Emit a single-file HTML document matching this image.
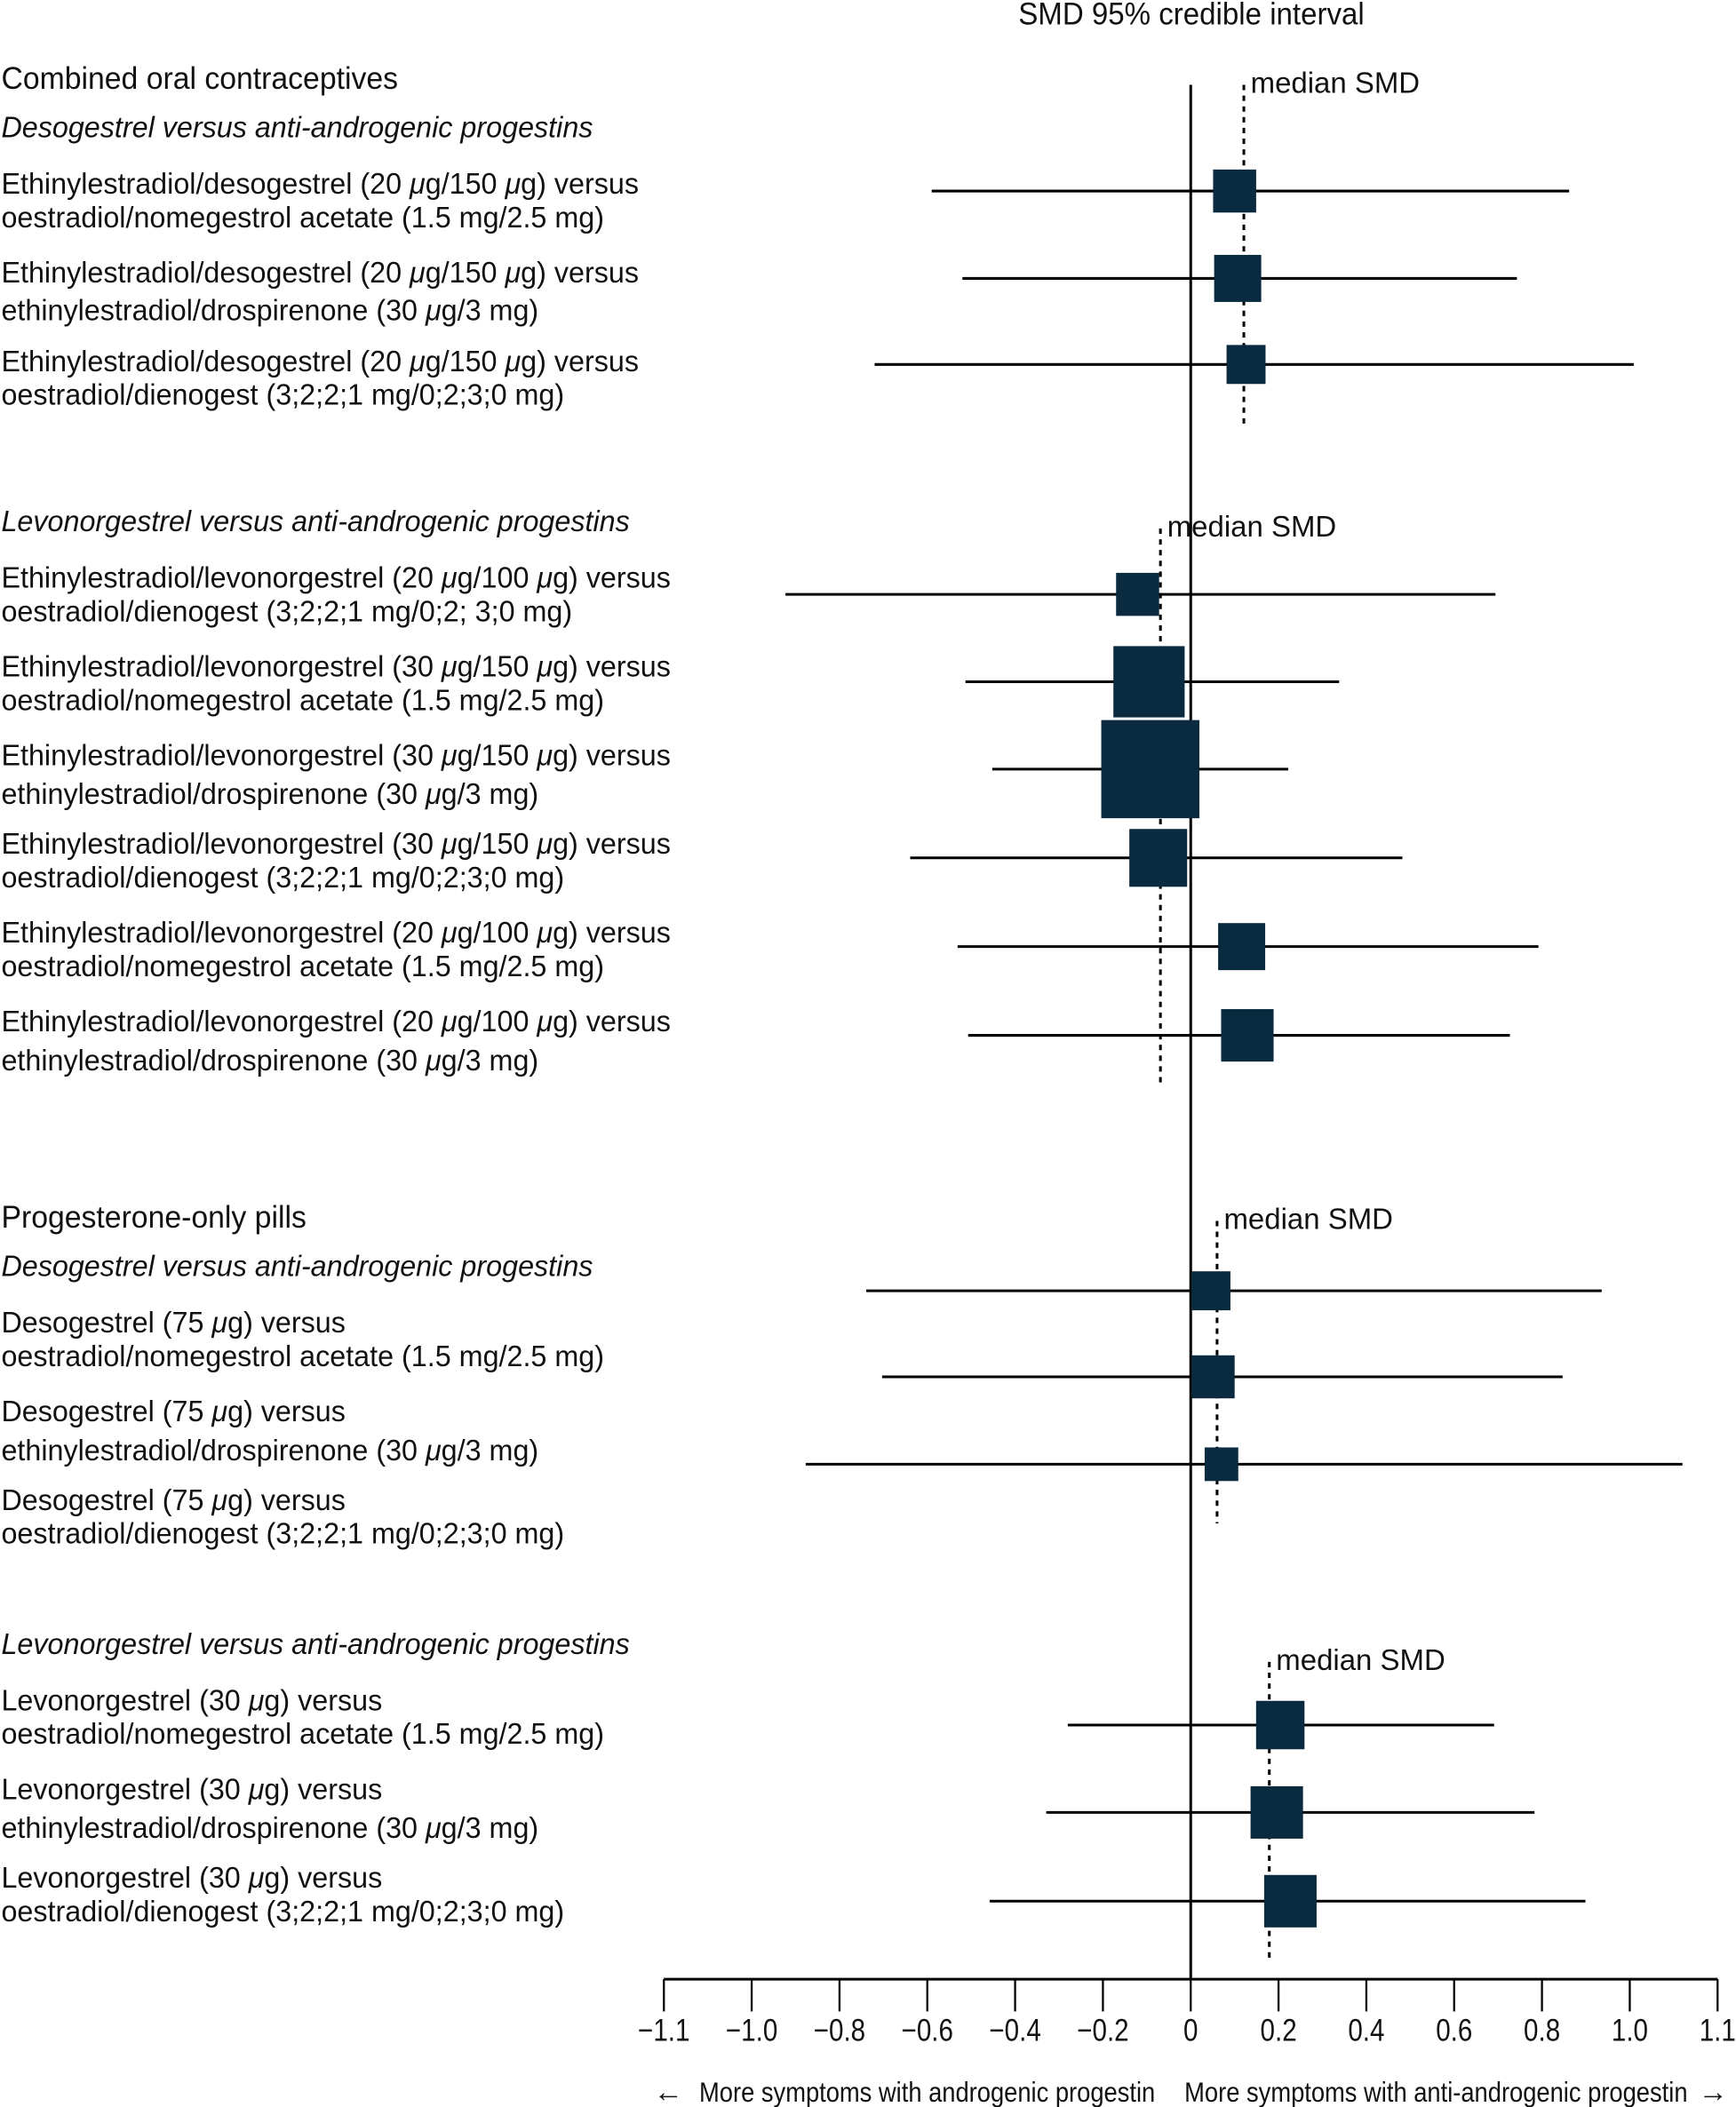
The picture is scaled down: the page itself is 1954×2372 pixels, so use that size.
<!DOCTYPE html>
<html><head><meta charset="utf-8"><style>
html,body{margin:0;padding:0;background:#fff;}
svg{display:block;}
text{font-family:"Liberation Sans",sans-serif;fill:#111;}
</style></head><body>
<svg id="chart" width="1954" height="2372" viewBox="0 0 1291 1567" xmlns="http://www.w3.org/2000/svg">
<g id="labels" transform="scale(0.97,1)" font-size="22"></g>
<g id="plot"></g>
</svg>
<script>
// ---- data ----
const medians = [0.121, -0.069, 0.06, 0.179];
const medianSpans = [[63,318],[393,808],[908,1133],[1236,1460]];
const estimates = [0.10,0.107,0.126,-0.121,-0.095,-0.092,-0.074,0.116,0.129,0.046,0.051,0.07,0.204,0.196,0.227];
const lowers = [-0.59,-0.52,-0.72,-0.923,-0.513,-0.452,-0.639,-0.531,-0.507,-0.739,-0.703,-0.877,-0.28,-0.329,-0.458];
const uppers = [0.862,0.743,1.009,0.694,0.338,0.222,0.482,0.792,0.727,0.936,0.847,1.12,0.691,0.783,0.899];
const weights = [32,35,29,32,53,73,43,35,39,29,32,25,36,39,39];
const tickValues = [-1.2,-1.0,-0.8,-0.6,-0.4,-0.2,0,0.2,0.4,0.6,0.8,1.0,1.2];
const tickLabels = ["\u22121.1","\u22121.0","\u22120.8","\u22120.6","\u22120.4","\u22120.2","0","0.2","0.4","0.6","0.8","1.0","1.1"];
const rowY = [142,207,271,442,507,572,638,704,770,960,1024,1089,1283,1348,1414];

const NS="http://www.w3.org/2000/svg";
const x = v => 885.5 + v*326.5;
const plot=document.getElementById('plot');
const labels=document.getElementById('labels');
function mk(tag,attrs,parent){const e=document.createElementNS(NS,tag);for(const k in attrs)e.setAttribute(k,attrs[k]);parent.appendChild(e);return e;}

let z=mk('line',{x1:x(0),x2:x(0),y1:63,y2:1472,stroke:'#000','stroke-width':2},plot);



medians.forEach((m,i)=>{
  const l=mk('line',{x1:x(m),x2:x(m),y1:medianSpans[i][0],y2:medianSpans[i][1],stroke:'#000','stroke-width':2,'stroke-dasharray':'4,4'},plot);
  
  
  const t=mk('text',{x:0,y:medianSpans[i][0]+6,'font-size':22,transform:`translate(${x(m)+5},0) scale(0.99,1)`},plot);
  t.textContent='median SMD';
  
  
});

estimates.forEach((e,i)=>{
  const y=rowY[i];
  const l=mk('line',{x1:x(lowers[i]),x2:x(uppers[i]),y1:y,y2:y,stroke:'#000','stroke-width':2},plot);
  
  
  const s=weights[i];
  const r=mk('rect',{x:x(e)-s/2,y:y-s/2,width:s,height:s,fill:'#0a2a3f'},plot);
  
  
});

let ax=mk('line',{x1:x(-1.2),x2:x(1.2),y1:1472,y2:1472,stroke:'#000','stroke-width':2},plot);


tickValues.forEach((v,i)=>{
  const t=mk('line',{x1:x(v),x2:x(v),y1:1472,y2:1496,stroke:'#000','stroke-width':1.5},plot);
  
  
  const lb=mk('text',{x:0,y:1518,'font-size':23,'text-anchor':'middle',transform:`translate(${x(v)},0) scale(0.85,1)`},plot);
  lb.textContent=tickLabels[i];
  
  
});
function ctext(str,cx,y,name,anchor,fs,sx){
  const t=mk('text',{x:0,y:y,'font-size':fs,'text-anchor':anchor||'middle',transform:`translate(${cx},0) scale(${sx},1)`},plot);
  t.textContent=str;
  
  
}
ctext('SMD 95% credible interval',886,18,'axis-title','middle',23,0.95);
ctext('\u2190',497,1563,'left-arrow','middle',22,1);
ctext('More symptoms with androgenic progestin',520,1563,'left-direction-label','start',21,0.86);
ctext('More symptoms with anti-androgenic progestin',1255,1563,'right-direction-label','end',21,0.86);
ctext('\u2192',1274,1563,'right-arrow','middle',22,1);

const L=[
["Combined oral contraceptives",66,'h'],
["Desogestrel versus anti-androgenic progestins",102,'i'],
["Ethinylestradiol/desogestrel (20 \u03bcg/150 \u03bcg) versus",144],["oestradiol/nomegestrol acetate (1.5 mg/2.5 mg)",169],
["Ethinylestradiol/desogestrel (20 \u03bcg/150 \u03bcg) versus",210],["ethinylestradiol/drospirenone (30 \u03bcg/3 mg)",238],
["Ethinylestradiol/desogestrel (20 \u03bcg/150 \u03bcg) versus",276],["oestradiol/dienogest (3;2;2;1 mg/0;2;3;0 mg)",301],
["Levonorgestrel versus anti-androgenic progestins",395,'i'],
["Ethinylestradiol/levonorgestrel (20 \u03bcg/100 \u03bcg) versus",437],["oestradiol/dienogest (3;2;2;1 mg/0;2; 3;0 mg)",462],
["Ethinylestradiol/levonorgestrel (30 \u03bcg/150 \u03bcg) versus",503],["oestradiol/nomegestrol acetate (1.5 mg/2.5 mg)",528],
["Ethinylestradiol/levonorgestrel (30 \u03bcg/150 \u03bcg) versus",569],["ethinylestradiol/drospirenone (30 \u03bcg/3 mg)",598],
["Ethinylestradiol/levonorgestrel (30 \u03bcg/150 \u03bcg) versus",635],["oestradiol/dienogest (3;2;2;1 mg/0;2;3;0 mg)",660],
["Ethinylestradiol/levonorgestrel (20 \u03bcg/100 \u03bcg) versus",701],["oestradiol/nomegestrol acetate (1.5 mg/2.5 mg)",726],
["Ethinylestradiol/levonorgestrel (20 \u03bcg/100 \u03bcg) versus",767],["ethinylestradiol/drospirenone (30 \u03bcg/3 mg)",796],
["Progesterone-only pills",913,'h'],
["Desogestrel versus anti-androgenic progestins",949,'i'],
["Desogestrel (75 \u03bcg) versus",991],["oestradiol/nomegestrol acetate (1.5 mg/2.5 mg)",1016],
["Desogestrel (75 \u03bcg) versus",1057],["ethinylestradiol/drospirenone (30 \u03bcg/3 mg)",1086],
["Desogestrel (75 \u03bcg) versus",1123],["oestradiol/dienogest (3;2;2;1 mg/0;2;3;0 mg)",1148],
["Levonorgestrel versus anti-androgenic progestins",1230,'i'],
["Levonorgestrel (30 \u03bcg) versus",1272],["oestradiol/nomegestrol acetate (1.5 mg/2.5 mg)",1297],
["Levonorgestrel (30 \u03bcg) versus",1338],["ethinylestradiol/drospirenone (30 \u03bcg/3 mg)",1367],
["Levonorgestrel (30 \u03bcg) versus",1404],["oestradiol/dienogest (3;2;2;1 mg/0;2;3;0 mg)",1429]
];
L.forEach(([s,y,st])=>{
  const t=mk('text',{x:1,y:y},labels);
  if(st==='i')t.setAttribute('font-style','italic');
  if(st==='h')t.setAttribute('font-size','23');
  s.split(/(\u03bc)/).forEach(part=>{
    if(!part)return;
    const ts=mk('tspan',{},t);
    if(part==='\u03bc')ts.setAttribute('font-style','italic');
    ts.textContent=part;
  });
  
  
});
</script>
</body></html>
